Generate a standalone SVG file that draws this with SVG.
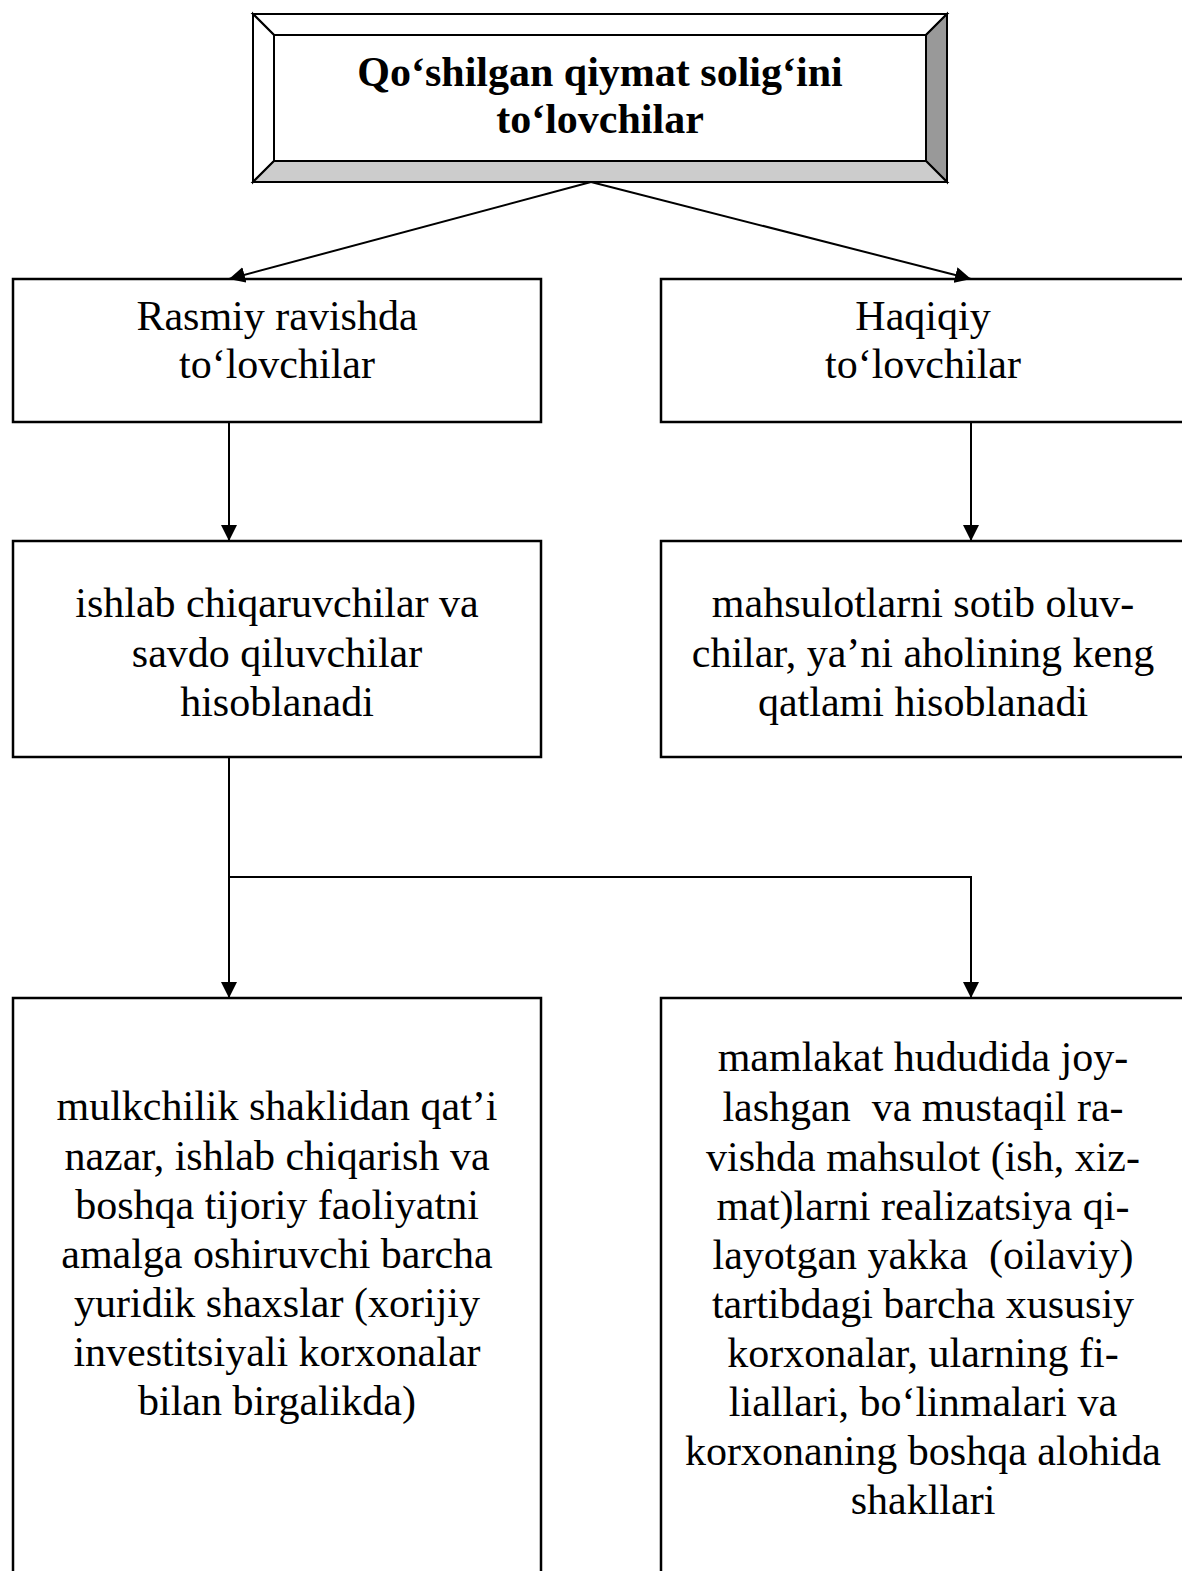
<svg xmlns="http://www.w3.org/2000/svg" width="1182" height="1571" viewBox="0 0 1182 1571">
<style>
.box{fill:#fff;stroke:#000;stroke-width:2.5}
.t{font-family:"Liberation Serif","Times New Roman",serif;font-size:42px;fill:#000;text-anchor:middle;white-space:pre}
.b{font-weight:bold}
.c{fill:none;stroke:#000;stroke-width:2}
.bev{stroke:#000;stroke-width:2;stroke-linejoin:miter}
</style>
<defs>
<marker id="arr" markerUnits="userSpaceOnUse" markerWidth="16" markerHeight="16" viewBox="0 0 16 16" refX="16" refY="8" orient="auto">
<path d="M0,0 L16,8 L0,16 Z" fill="#000"/>
</marker>
</defs>
<rect width="1182" height="1571" fill="#fff"/>
<g id="title">
<rect x="253" y="14" width="694" height="168" fill="#fff" stroke="#000" stroke-width="2"/>
<polygon class="bev" points="253,14 947,14 926,35 274,35" fill="#fff"/>
<polygon class="bev" points="253,14 274,35 274,161 253,182" fill="#fff"/>
<polygon class="bev" points="947,14 947,182 926,161 926,35" fill="#999"/>
<polygon class="bev" points="253,182 274,161 926,161 947,182" fill="#ccc"/>
<rect x="274" y="35" width="652" height="126" fill="#fff" stroke="#000" stroke-width="2"/>
<text class="t b" x="600" y="86">Qo‘shilgan qiymat solig‘ini</text>
<text class="t b" x="600" y="133">to‘lovchilar</text>
</g>
<g id="n-rasmiy">
<rect class="box" x="13" y="279" width="528" height="143"/>
<text class="t" x="277" y="330">Rasmiy ravishda</text>
<text class="t" x="277" y="378">to‘lovchilar</text>
</g>
<g id="n-haqiqiy">
<rect class="box" x="661" y="279" width="540" height="143"/>
<text class="t" x="923" y="330">Haqiqiy</text>
<text class="t" x="923" y="378">to‘lovchilar</text>
</g>
<g id="n-ishlab">
<rect class="box" x="13" y="541" width="528" height="216"/>
<text class="t" x="277" y="617">ishlab chiqaruvchilar va</text>
<text class="t" x="277" y="667">savdo qiluvchilar</text>
<text class="t" x="277" y="716">hisoblanadi</text>
</g>
<g id="n-mahsulot">
<rect class="box" x="661" y="541" width="540" height="216"/>
<text class="t" x="923" y="617">mahsulotlarni sotib oluv-</text>
<text class="t" x="923" y="667">chilar, ya’ni aholining keng</text>
<text class="t" x="923" y="716">qatlami hisoblanadi</text>
</g>
<g id="n-yuridik">
<rect class="box" x="13" y="998" width="528" height="600"/>
<text class="t" x="277" y="1120">mulkchilik shaklidan qat’i</text>
<text class="t" x="277" y="1170">nazar, ishlab chiqarish va</text>
<text class="t" x="277" y="1219">boshqa tijoriy faoliyatni</text>
<text class="t" x="277" y="1268">amalga oshiruvchi barcha</text>
<text class="t" x="277" y="1317">yuridik shaxslar (xorijiy</text>
<text class="t" x="277" y="1366">investitsiyali korxonalar</text>
<text class="t" x="277" y="1415">bilan birgalikda)</text>
</g>
<g id="n-xususiy">
<rect class="box" x="661" y="998" width="540" height="600"/>
<text class="t" x="923" y="1071">mamlakat hududida joy-</text>
<text class="t" x="923" y="1121">lashgan  va mustaqil ra-</text>
<text class="t" x="923" y="1171">vishda mahsulot (ish, xiz-</text>
<text class="t" x="923" y="1220">mat)larni realizatsiya qi-</text>
<text class="t" x="923" y="1269">layotgan yakka  (oilaviy)</text>
<text class="t" x="923" y="1318">tartibdagi barcha xususiy</text>
<text class="t" x="923" y="1367">korxonalar, ularning fi-</text>
<text class="t" x="923" y="1416">liallari, bo‘linmalari va</text>
<text class="t" x="923" y="1465">korxonaning boshqa alohida</text>
<text class="t" x="923" y="1514">shakllari</text>
</g>
<g id="connectors">
<path class="c" d="M591,182 L229,279" marker-end="url(#arr)"/>
<path class="c" d="M591,182 L971,279" marker-end="url(#arr)"/>
<path class="c" d="M229,422 L229,541" marker-end="url(#arr)"/>
<path class="c" d="M971,422 L971,541" marker-end="url(#arr)"/>
<path class="c" d="M229,757 L229,998" marker-end="url(#arr)"/>
<path class="c" d="M229,877 L971,877 L971,998" marker-end="url(#arr)"/>
</g>
</svg>
